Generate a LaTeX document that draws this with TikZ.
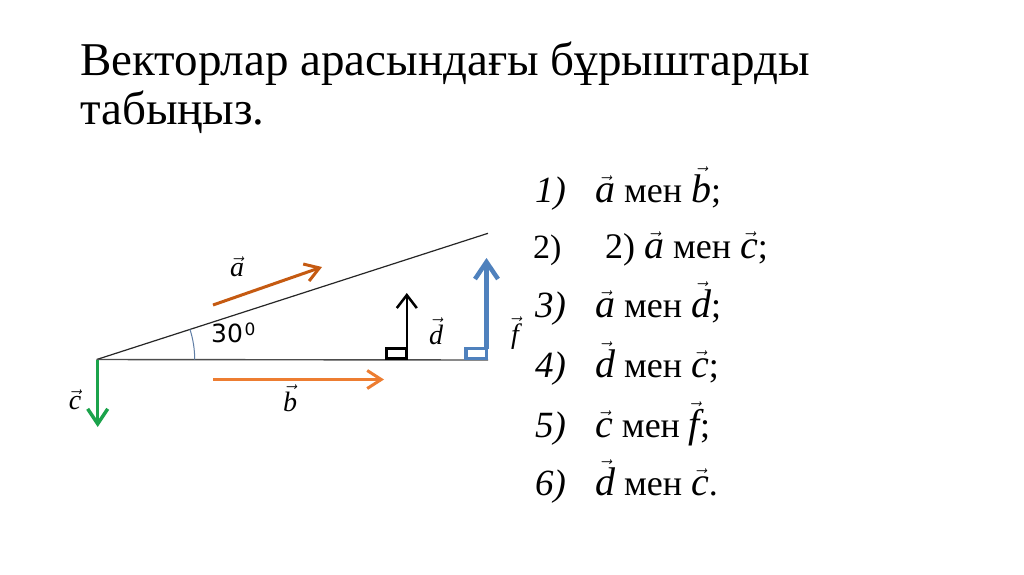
\documentclass[tikz,border=0pt]{standalone}
\usepackage{fontspec}
\setmainfont{Liberation Serif}
\newfontfamily\dejav{DejaVu Sans}
\usetikzlibrary{arrows.meta}
\newcommand\vv[1]{\ensuremath{\vec{\mbox{\itshape #1}}}}
\newcommand\vl[1]{\ensuremath{\vec{\mbox{\fontsize{40}{44}\selectfont\itshape #1}}}}
\begin{document}
\begin{tikzpicture}[x=1pt,y=-1pt,
  titletext/.style={anchor=base west,inner sep=0,font=\fontsize{47}{50}\selectfont},
  numtext/.style={anchor=base west,inner sep=0,font=\fontsize{37}{40}\selectfont\itshape},
  uprnum/.style={anchor=base west,inner sep=0,font=\fontsize{34}{40}\selectfont},
  itemtext/.style={anchor=base west,inner sep=0,font=\fontsize{36}{40}\selectfont},
  lbl/.style={inner sep=0,font=\fontsize{28}{32}\selectfont},
  guide/.style={line width=1.2pt,draw=black!85},
  vecarrow/.style={line width=#1,-{Straight Barb[length=14pt,width=18pt]}},
]
\useasboundingbox[fill=white] (0,0) rectangle (1024,574);

% title
\node[titletext] (t1) at (80,75) {Векторлар арасындағы бұрыштарды};
\node[titletext] (t2) at (80,124) {табыңыз.};

% geometry
\coordinate (O) at (96.7,359.5);
\coordinate (U) at (488,233.3);
\coordinate (H) at (488,360);
\draw[guide] (O) -- (U);
\draw[line width=1.4pt,draw=black!70] (O) -- (H);
\draw[line width=1pt,draw={rgb,255:red,95;green,125;blue,165}] ([xshift=98pt]O) arc[start angle=0,end angle=17.9,radius=98pt];
\node[anchor=base west,inner sep=0,font=\fontsize{25}{28}\selectfont\dejav] (ang) at (211,342.7) {30\hspace{1.5pt}\raisebox{7.5pt}{\fontsize{17}{17}\selectfont 0}};

% vector a
\coordinate (a1) at (213,305);
\coordinate (a2) at (322,267);
\draw[vecarrow=3pt,draw={rgb,255:red,197;green,90;blue,17}] (a1) -- (a2);
\node[lbl] (la) at (237,267) {\vv{a}};

% vector b
\coordinate (b1) at (213,379.5);
\coordinate (b2) at (384,379.5);
\draw[vecarrow=3pt,draw={rgb,255:red,237;green,125;blue,49}] (b1) -- (b2);
\node[lbl] (lb) at (290,398) {\vv{b}};

% vector c
\coordinate (c2) at (97.7,427);
\draw[vecarrow=3.5pt,draw={rgb,255:red,27;green,163;blue,75},-{Straight Barb[length=15pt,width=20pt]}] ([xshift=1pt]O) -- (c2);
\node[lbl] (lc) at (75,400) {\vv{c}};

% vector d
\draw[line width=3pt,black] (386.5,348.2) rectangle (406.8,358.2);
\coordinate (d1) at (406.8,349);
\coordinate (d2) at (406.8,293);
\draw[vecarrow=2.5pt,black,-{Straight Barb[length=13pt,width=20pt]}] (d1) -- (d2);
\node[lbl] (ld) at (436,331) {\vv{d}};

% vector f
\draw[line width=3.5pt,draw={rgb,255:red,79;green,129;blue,189}] (466,348.4) rectangle (486.5,358.3);
\coordinate (f1) at (486.5,349);
\coordinate (f2) at (486.5,258);
\draw[vecarrow=4.5pt,draw={rgb,255:red,79;green,129;blue,189},-{Straight Barb[length=17pt,width=23pt]}] (f1) -- (f2);
\node[lbl] (lf) at (515,333) {\vv{f}};

% list
\node[numtext] (n1) at (535,202) {1)};
\node[itemtext] (i1) at (595,202) {\vl{a} мен \vl{b};};
\node[uprnum] (n2) at (533,258) {2)};
\node[itemtext] (i2) at (605,258) {2) \vl{a} мен \vl{c};};
\node[numtext] (n3) at (535,317) {3)};
\node[itemtext] (i3) at (595,317) {\vl{a} мен \vl{d};};
\node[numtext] (n4) at (535,377) {4)};
\node[itemtext] (i4) at (595,377) {\vl{d} мен \vl{c};};
\node[numtext] (n5) at (535,437) {5)};
\node[itemtext] (i5) at (595,437) {\vl{c} мен \vl{f};};
\node[numtext] (n6) at (535,495) {6)};
\node[itemtext] (i6) at (595,495) {\vl{d} мен \vl{c}.};
\end{tikzpicture}
\end{document}
